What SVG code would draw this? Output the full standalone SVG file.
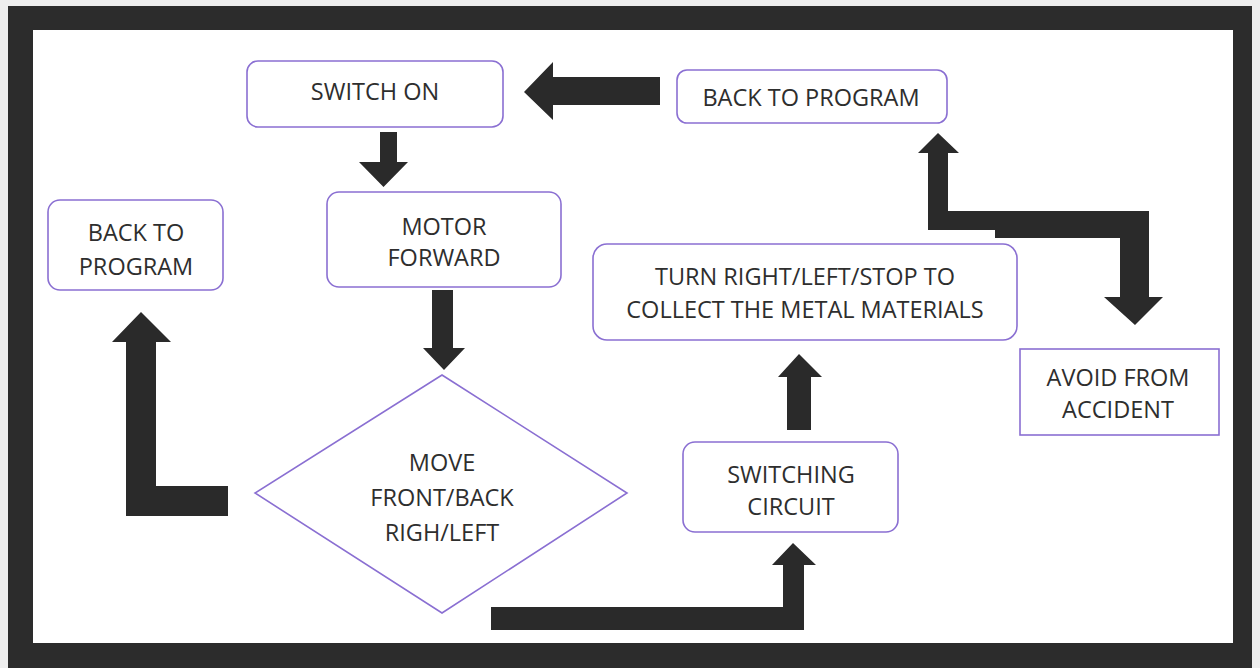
<svg xmlns="http://www.w3.org/2000/svg" width="1260" height="668" viewBox="0 0 1260 668">
<style>
.box{fill:#fff;stroke:#8a6fd2;stroke-width:1.6}
.t{font-family:"Open Sans","Liberation Sans",sans-serif;font-size:23.5px;fill:#2e2e2e;text-anchor:middle}
.ar{fill:#2a2a2a}
</style>
<rect x="0" y="0" width="1260" height="668" fill="#eeeeee"/>
<rect x="8" y="6" width="1244" height="662" fill="#2c2c2c"/>
<rect x="33" y="30" width="1200" height="613" fill="#ffffff"/>
<g id="connectors">
<polygon class="ar" points="380,132 397,132 397,162 408,162 383.5,187 359,162 380,162"/>
<polygon class="ar" points="432,290 453,290 453,348 465,348 444,370 423,348 432,348"/>
<polygon class="ar" points="660,77 660,105 553,105 553,120 524,92 553,62 553,77"/>
<polygon class="ar" points="228,486 228,516 126,516 126,342 112,342 141,312 171,342 156,342 156,486"/>
<polygon class="ar" points="491,607 783,607 783,565 772,565 793,543 816,565 804,565 804,630 491,630"/>
<polygon class="ar" points="787,430 787,377 778,377 799,354 822,377 811,377 811,430"/>
<polygon class="ar" points="928,230 928,153 918,153 938,133 959,153 948,153 948,211 1149,211 1149,297 1163,297 1135,325 1104,297 1120,297 1120,238 995,238 995,230"/>
</g>
<g id="switch-on">
<rect class="box" x="247" y="61" width="256" height="66" rx="11"/>
<text class="t" x="375" y="100">SWITCH ON</text>
</g>
<g id="back-to-program-top">
<rect class="box" x="677" y="70" width="270" height="53" rx="10"/>
<text class="t" x="811" y="106">BACK TO PROGRAM</text>
</g>
<g id="motor-forward">
<rect class="box" x="327" y="192" width="234" height="95" rx="12"/>
<text class="t" x="444" y="235">MOTOR</text>
<text class="t" x="444" y="266">FORWARD</text>
</g>
<g id="back-to-program-left">
<rect class="box" x="48" y="200" width="175" height="90" rx="12"/>
<text class="t" x="136" y="241">BACK TO</text>
<text class="t" x="136" y="275">PROGRAM</text>
</g>
<g id="move">
<polygon class="box" points="442,375 627,493 442,613 255,493"/>
<text class="t" x="442" y="471">MOVE</text>
<text class="t" x="442" y="506">FRONT/BACK</text>
<text class="t" x="442" y="541">RIGH/LEFT</text>
</g>
<g id="turn">
<rect class="box" x="593" y="244" width="424" height="96" rx="14"/>
<text class="t" x="805" y="285">TURN RIGHT/LEFT/STOP TO</text>
<text class="t" x="805" y="318">COLLECT THE METAL MATERIALS</text>
</g>
<g id="switching-circuit">
<rect class="box" x="683" y="442" width="215" height="90" rx="12"/>
<text class="t" x="791" y="483">SWITCHING</text>
<text class="t" x="791" y="515">CIRCUIT</text>
</g>
<g id="avoid">
<rect class="box" x="1020" y="349" width="199" height="86"/>
<text class="t" x="1118" y="386">AVOID FROM</text>
<text class="t" x="1118" y="418">ACCIDENT</text>
</g>
</svg>
